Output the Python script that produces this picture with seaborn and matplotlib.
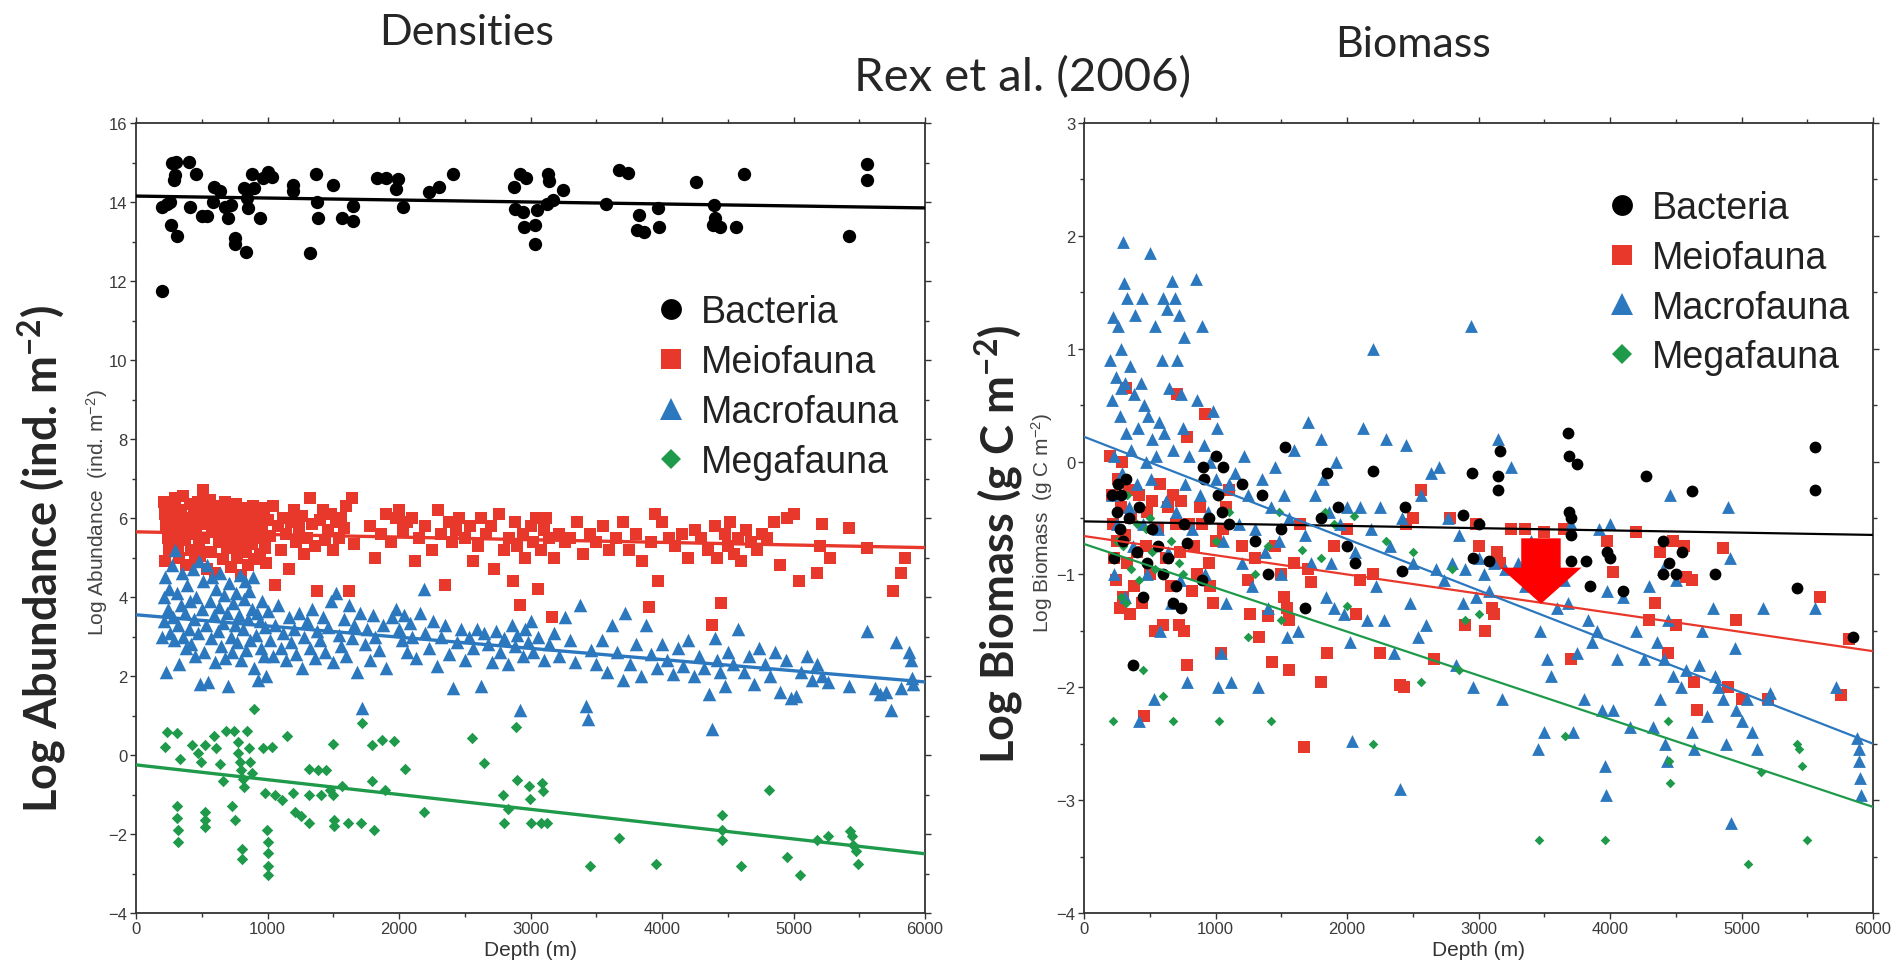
import matplotlib
matplotlib.use("Agg")
import matplotlib.pyplot as plt
import seaborn as sns
import pandas as pd
from matplotlib.ticker import MultipleLocator
from matplotlib.lines import Line2D

# ---------------- data ----------------
species = ["Bacteria", "Meiofauna", "Macrofauna", "Megafauna"]
panel_titles = ["Densities", "Biomass"]
figure_title = "Rex et al. (2006)"

# Left panel: Log abundance (ind. m-2) vs depth (m)
dens_bacteria = [
    (200, 11.75), (195, 13.87), (233, 13.95), (258, 14.0), (265, 13.43), (271, 14.98), (304, 15.02),
    (296, 14.69), (289, 14.56), (309, 13.15), (405, 15.02), (453, 14.7), (410, 13.87), (499, 13.64),
    (542, 13.64), (588, 14.0), (593, 14.39), (639, 14.28), (677, 13.87), (702, 13.6), (722, 13.92),
    (753, 13.1), (756, 12.93), (834, 12.74), (821, 14.35), (841, 14.1), (849, 13.85), (879, 14.7),
    (897, 14.35), (943, 13.6), (968, 14.6), (1006, 14.75), (1032, 14.64), (1191, 14.42), (1196, 14.28),
    (1323, 12.71), (1369, 14.7), (1379, 14.0), (1382, 13.6), (1501, 14.44), (1564, 13.6), (1648, 13.53),
    (1653, 13.89), (1830, 14.6), (1901, 14.6), (1990, 14.58), (1977, 14.33), (2033, 13.87), (2228, 14.25),
    (2307, 14.39), (2413, 14.7), (2877, 14.39), (2920, 14.7), (2965, 14.6), (2882, 13.82), (2946, 13.75),
    (2950, 13.36), (3035, 13.41), (3038, 12.93), (3047, 13.81), (3136, 14.7), (3141, 14.52), (3123, 13.95),
    (3174, 14.06), (3250, 14.31), (3571, 13.96), (3673, 14.8), (3743, 14.73), (3827, 13.68), (3813, 13.29),
    (3864, 13.23), (3966, 13.85), (3976, 13.36), (4260, 14.5), (4395, 13.92), (4385, 13.43), (4441, 13.37),
    (4404, 13.6), (4562, 13.37), (4627, 14.71), (5424, 13.14), (5559, 14.95), (5562, 14.55),
]
dens_meiofauna = [
    (210, 6.4), (220, 6.1), (230, 5.8), (240, 5.5), (250, 5.2), (220, 4.9), (260, 6.3), (270, 5.9),
    (280, 5.6), (300, 6.5), (310, 6.0), (320, 5.3), (330, 5.0), (340, 6.2), (350, 5.7), (360, 6.55),
    (370, 5.45), (380, 4.8), (390, 6.0), (400, 5.9), (410, 6.35), (420, 5.2), (430, 5.6), (440, 6.1),
    (450, 4.9), (460, 5.8), (470, 6.4), (480, 5.35), (490, 5.05), (500, 6.0), (510, 6.7), (520, 5.5),
    (530, 6.2), (540, 4.7), (550, 5.85), (560, 6.45), (570, 5.15), (580, 5.65), (590, 6.05), (600, 4.6),
    (610, 5.95), (620, 6.3), (630, 5.4), (640, 5.75), (650, 6.15), (660, 4.95), (670, 5.55), (680, 6.4),
    (690, 5.25), (700, 5.9), (710, 6.2), (720, 4.75), (730, 5.6), (740, 6.0), (750, 5.3), (760, 6.35),
    (770, 5.0), (780, 5.7), (790, 6.1), (800, 4.55), (810, 5.45), (820, 5.85), (830, 6.25), (840, 5.15),
    (850, 4.8), (860, 5.65), (870, 6.0), (880, 5.35), (890, 6.3), (900, 4.95), (910, 5.8), (920, 6.15),
    (930, 5.5), (940, 5.1), (950, 6.0), (960, 5.7), (970, 6.25), (980, 5.25), (990, 4.85), (1000, 5.95),
    (1020, 5.55), (1040, 6.3), (1060, 4.3), (1080, 5.8), (1100, 5.2), (1120, 6.0), (1140, 5.6), (1160, 4.7),
    (1180, 5.9), (1200, 6.2), (1220, 5.4), (1240, 5.75), (1260, 6.05), (1280, 5.1), (1300, 5.5), (1320, 6.5),
    (1340, 5.85), (1360, 5.3), (1380, 4.15), (1400, 5.95), (1420, 6.2), (1440, 5.45), (1460, 5.7), (1480, 6.1),
    (1500, 5.2), (1520, 5.9), (1540, 5.5), (1560, 6.0), (1580, 5.75), (1600, 6.3), (1620, 4.15), (1640, 6.5),
    (1660, 5.35), (1780, 5.8), (1820, 5.0), (1860, 5.6), (1900, 6.1), (1940, 5.4), (1980, 6.0), (2000, 6.2),
    (2030, 5.7), (2060, 5.9), (2100, 6.0), (2120, 4.9), (2150, 5.5), (2200, 5.8), (2250, 5.2), (2300, 6.2),
    (2320, 5.6), (2350, 4.3), (2380, 5.9), (2400, 5.4), (2430, 5.7), (2460, 6.0), (2500, 5.5), (2540, 5.8),
    (2560, 4.9), (2600, 5.3), (2620, 6.0), (2660, 5.6), (2700, 5.8), (2720, 4.7), (2760, 6.1), (2800, 5.2),
    (2840, 5.5), (2870, 4.4), (2880, 5.9), (2900, 5.3), (2920, 3.8), (2940, 5.6), (2960, 5.0), (3000, 5.8),
    (3020, 5.4), (3040, 6.0), (3060, 4.2), (3080, 5.2), (3100, 5.7), (3120, 6.0), (3140, 5.5), (3160, 3.5),
    (3180, 5.0), (3220, 5.6), (3260, 5.4), (3300, 5.5), (3350, 5.9), (3400, 5.1), (3450, 5.6), (3500, 5.4),
    (3550, 5.8), (3600, 5.2), (3650, 5.5), (3700, 5.9), (3750, 5.2), (3800, 5.6), (3850, 4.9), (3900, 3.75),
    (3920, 5.4), (3950, 6.1), (3970, 4.4), (4000, 5.9), (4050, 5.5), (4100, 5.3), (4150, 5.6), (4200, 5.0),
    (4250, 5.7), (4300, 5.5), (4350, 5.2), (4380, 3.3), (4400, 5.8), (4420, 5.0), (4450, 3.85), (4480, 5.6),
    (4500, 5.3), (4520, 5.9), (4550, 5.1), (4580, 5.5), (4600, 4.9), (4640, 5.7), (4680, 5.4), (4720, 5.2),
    (4760, 5.6), (4800, 5.5), (4850, 5.9), (4900, 4.8), (4950, 6.0), (5000, 6.1), (5040, 4.4), (5180, 4.6),
    (5200, 5.3), (5220, 5.85), (5280, 5.0), (5420, 5.75), (5560, 5.25), (5760, 4.15), (5820, 4.6), (5850, 5.0),
]
dens_macrofauna = [
    (200, 3.0), (210, 3.4), (215, 4.0), (220, 4.5), (230, 2.1), (240, 3.7), (250, 4.2), (260, 3.1),
    (270, 4.8), (280, 3.5), (290, 2.9), (300, 5.2), (310, 4.1), (320, 3.3), (330, 2.3), (340, 3.8),
    (350, 4.6), (360, 3.0), (370, 3.6), (380, 2.7), (390, 4.3), (400, 3.2), (410, 3.9), (420, 2.8),
    (430, 4.7), (440, 3.45), (450, 2.5), (460, 4.0), (470, 3.1), (480, 4.9), (490, 1.8), (500, 3.7),
    (510, 4.4), (520, 2.6), (530, 3.3), (540, 4.8), (550, 1.85), (560, 3.9), (570, 2.95), (580, 4.5),
    (590, 3.55), (600, 2.35), (610, 4.2), (620, 3.15), (630, 3.75), (640, 4.6), (650, 2.75), (660, 3.35),
    (670, 4.05), (680, 2.45), (690, 3.6), (700, 1.75), (710, 4.35), (720, 3.0), (730, 2.6), (740, 3.85),
    (750, 3.3), (760, 4.1), (770, 2.85), (780, 3.55), (790, 4.55), (800, 2.4), (810, 3.2), (820, 3.95),
    (830, 4.4), (840, 2.65), (850, 3.45), (860, 4.15), (870, 2.9), (880, 3.7), (890, 4.5), (900, 2.2),
    (910, 3.05), (920, 3.6), (930, 1.9), (940, 3.4), (950, 2.7), (960, 3.9), (970, 2.5), (980, 3.25),
    (990, 2.0), (1000, 3.65), (1020, 2.9), (1040, 2.5), (1060, 3.3), (1080, 3.8), (1100, 2.7), (1120, 3.1),
    (1140, 2.4), (1160, 3.5), (1180, 2.85), (1200, 3.2), (1220, 2.55), (1240, 3.6), (1260, 2.2), (1280, 3.0),
    (1300, 3.4), (1320, 2.7), (1340, 3.7), (1360, 2.45), (1380, 3.15), (1400, 2.9), (1420, 3.5), (1440, 2.6),
    (1460, 3.25), (1480, 3.9), (1500, 2.35), (1520, 4.1), (1540, 3.05), (1560, 2.75), (1580, 3.45), (1600, 2.5),
    (1620, 3.8), (1640, 2.95), (1660, 3.3), (1680, 2.1), (1700, 3.6), (1720, 1.2), (1740, 2.8), (1760, 3.2),
    (1780, 2.4), (1800, 3.55), (1820, 3.0), (1850, 2.65), (1880, 3.3), (1900, 2.2), (1950, 3.5), (1980, 3.7),
    (2000, 3.2), (2020, 2.9), (2040, 3.55), (2060, 2.6), (2080, 3.35), (2100, 3.0), (2130, 2.45), (2160, 3.6),
    (2190, 4.2), (2200, 3.1), (2230, 2.7), (2260, 3.4), (2290, 2.25), (2320, 3.0), (2350, 3.3), (2380, 2.55),
    (2410, 1.7), (2440, 2.85), (2470, 3.2), (2500, 2.4), (2530, 3.0), (2560, 2.7), (2590, 3.2), (2620, 1.75),
    (2650, 3.1), (2680, 2.8), (2710, 2.35), (2740, 3.15), (2770, 2.6), (2800, 2.95), (2830, 2.3), (2860, 3.3),
    (2880, 2.75), (2900, 3.05), (2920, 1.15), (2940, 2.5), (2960, 3.2), (2980, 2.85), (3000, 3.4), (3020, 2.6),
    (3060, 3.0), (3100, 2.4), (3140, 2.8), (3180, 3.1), (3220, 2.5), (3260, 3.5), (3300, 2.9), (3340, 2.35),
    (3380, 3.8), (3420, 1.25), (3440, 0.9), (3460, 2.65), (3500, 2.3), (3540, 2.9), (3580, 2.1), (3620, 3.3),
    (3660, 2.6), (3700, 1.9), (3720, 3.6), (3760, 2.3), (3800, 2.8), (3840, 2.0), (3880, 3.3), (3920, 2.55),
    (3960, 2.2), (4000, 2.8), (4040, 2.4), (4080, 2.05), (4120, 2.7), (4160, 2.25), (4200, 2.9), (4240, 2.0),
    (4280, 2.5), (4320, 2.2), (4360, 1.55), (4380, 0.65), (4400, 2.95), (4420, 2.4), (4440, 2.1), (4480, 1.75),
    (4500, 2.6), (4540, 2.3), (4580, 3.2), (4620, 2.1), (4660, 2.5), (4700, 1.8), (4740, 2.7), (4780, 2.3),
    (4820, 2.0), (4860, 2.6), (4900, 1.6), (4940, 2.4), (4980, 1.45), (5020, 1.5), (5060, 2.1), (5100, 2.5),
    (5140, 1.9), (5180, 2.3), (5220, 2.0), (5260, 1.85), (5420, 1.75), (5560, 3.15), (5620, 1.7), (5660, 1.55),
    (5700, 1.6), (5740, 1.15), (5780, 2.85), (5820, 1.7), (5880, 2.6), (5890, 2.4), (5900, 1.95), (5910, 1.8),
]
dens_megafauna = [
    (219, 0.2), (233, 0.59), (312, 0.56), (335, -0.1), (312, -1.3), (314, -1.6), (316, -1.9), (321, -2.2),
    (428, 0.25), (475, 0.04), (498, -0.17), (521, 0.25), (521, -1.44), (523, -1.65), (525, -1.83), (591, 0.49),
    (605, 0.18), (638, -0.24), (684, 0.6), (661, -0.67), (745, 0.6), (731, -1.3), (754, -1.65), (777, 0.32),
    (779, 0.04), (791, -0.17), (801, -0.39), (810, -0.6), (824, -0.8), (803, -2.38), (805, -2.63), (847, 0.6),
    (861, 0.18), (870, -0.17), (884, -0.46), (894, 1.17), (964, 0.18), (978, -0.95), (996, -1.9), (1000, -2.19),
    (1002, -2.47), (1004, -2.82), (1006, -3.03), (1034, 0.2), (1057, -1.02), (1113, -1.13), (1150, 0.49),
    (1196, -0.95), (1210, -1.44), (1257, -1.54), (1313, -0.36), (1315, -1.02), (1317, -1.72), (1383, -0.39),
    (1406, -1.02), (1443, -0.39), (1476, -0.88), (1499, 0.27), (1501, -1.02), (1503, -1.65), (1505, -1.79),
    (1569, -0.78), (1615, -1.72), (1718, 0.81), (1709, -1.72), (1792, 0.25), (1794, -0.67), (1811, -1.9),
    (1872, 0.39), (1895, -0.88), (1965, 0.36), (2048, -0.36), (2188, -1.44), (2556, 0.42), (2649, -0.2),
    (2793, -1.02), (2795, -1.72), (2826, -1.37), (2886, 0.71), (2896, -0.64), (2989, -0.78), (2998, -1.12),
    (3000, -1.72), (3082, -1.72), (3091, -0.7), (3093, -0.92), (3128, -1.72), (3454, -2.82), (3673, -2.1),
    (3953, -2.75), (4455, -1.51), (4457, -1.9), (4459, -2.14), (4604, -2.82), (4814, -0.88), (4953, -2.57),
    (5051, -3.03), (5177, -2.14), (5261, -2.04), (5433, -1.93), (5447, -2.04), (5456, -2.28), (5479, -2.42),
    (5493, -2.75),
]

# Right panel: Log biomass (g C m-2) vs depth (m)
bio_bacteria = [
    (210, -0.3), (230, -0.85), (250, -0.45), (260, -0.2), (270, -0.6), (280, -0.3), (300, -0.7), (320, -0.15),
    (340, -0.5), (370, -1.8), (400, -0.8), (420, -0.4), (450, -1.2), (480, -0.9), (520, -0.6), (560, -0.75),
    (600, -1.0), (640, -0.85), (680, -1.25), (700, -1.1), (740, -1.3), (760, -0.55), (780, -0.72), (900, -1.05),
    (905, -0.05), (910, -0.15), (950, -0.5), (1000, 0.05), (1020, -0.3), (1050, -0.45), (1060, -0.05),
    (1100, -0.55), (1200, -0.2), (1300, -0.7), (1350, -0.3), (1400, -1.0), (1500, -0.6), (1530, 0.13),
    (1680, -1.3), (1800, -0.5), (1850, -0.1), (1930, -0.4), (2000, -0.75), (2060, -0.9), (2200, -0.08),
    (2420, -0.97), (2440, -0.4), (2880, -0.47), (2950, -0.1), (2960, -0.85), (3000, -0.55), (3080, -0.88),
    (3150, -0.25), (3152, -0.13), (3160, 0.09), (3680, 0.25), (3690, 0.05), (3692, -0.45), (3700, -0.5),
    (3702, -0.65), (3704, -0.88), (3750, -0.02), (3820, -0.88), (3850, -1.1), (3980, -0.8), (4000, -0.85),
    (4100, -1.15), (4270, -0.13), (4400, -0.7), (4402, -1.0), (4450, -0.9), (4500, -1.0), (4550, -0.8),
    (4620, -0.26), (4800, -1.0), (5420, -1.12), (5560, 0.13), (5562, -0.25), (5850, -1.55),
]
bio_meiofauna = [
    (200, 0.05), (210, -0.3), (220, -0.55), (230, -0.85), (240, -1.05), (250, -0.7), (260, -0.15), (270, -1.3),
    (280, -0.4), (290, 0.0), (300, -1.2), (310, -0.65), (320, 0.65), (330, -0.9), (340, -0.25), (350, -1.35),
    (360, -0.5), (380, -1.1), (400, -0.8), (420, -0.3), (440, -1.25), (460, -2.25), (470, -0.75), (480, -0.45),
    (500, -1.0), (520, -0.35), (540, -1.5), (560, -0.6), (580, -0.2), (600, -1.45), (620, -0.85), (640, -0.4),
    (660, -1.1), (680, -0.3), (700, -0.55), (710, 0.6), (720, -1.45), (730, -0.8), (740, -0.35), (760, -1.5),
    (780, -1.8), (785, 0.22), (800, -0.55), (820, -1.15), (840, -0.75), (860, -1.0), (880, -0.4), (900, -0.55),
    (920, 0.42), (950, -0.9), (960, -1.1), (980, -1.25), (1000, -0.7), (1040, -1.7), (1060, -0.6), (1080, -0.4),
    (1100, -0.25), (1200, -0.75), (1250, -1.05), (1260, -1.35), (1300, -0.85), (1330, -1.55), (1400, -1.37),
    (1430, -1.78), (1450, -0.75), (1500, -1.0), (1520, -1.2), (1540, -1.3), (1560, -1.4), (1562, -1.85),
    (1600, -0.9), (1640, -0.55), (1670, -2.53), (1700, -0.95), (1730, -1.07), (1800, -1.95), (1850, -1.7),
    (1900, -0.75), (2000, -0.6), (2070, -1.35), (2100, -1.05), (2200, -1.0), (2250, -1.7), (2400, -1.98),
    (2430, -2.0), (2450, -0.55), (2500, -0.5), (2560, -0.25), (2660, -1.75), (2780, -0.5), (2900, -1.45),
    (2980, -0.55), (3000, -0.75), (3050, -1.5), (3100, -1.3), (3120, -1.35), (3140, -0.8), (3160, -0.9),
    (3250, -0.6), (3350, -0.6), (3500, -0.62), (3650, -0.6), (3700, -1.75), (3980, -0.7), (4020, -0.98),
    (4200, -0.62), (4300, -1.4), (4340, -1.25), (4380, -0.8), (4440, -1.7), (4480, -0.7), (4500, -1.45),
    (4560, -0.75), (4580, -1.02), (4620, -1.05), (4640, -1.95), (4660, -2.2), (4860, -0.77), (4960, -1.4),
    (4900, -2.0), (5000, -2.1), (5200, -2.1), (5600, -1.2), (5760, -2.07), (5820, -1.57),
]
bio_macrofauna = [
    (200, 0.9), (210, 0.55), (215, -0.3), (220, 1.28), (225, 0.05), (230, -1.0), (240, 0.75), (250, -0.55),
    (260, 1.2), (270, 0.4), (280, 0.65), (285, 1.0), (290, -0.1), (300, 1.95), (305, 1.58), (310, 0.7),
    (315, -1.2), (320, 0.25), (330, 1.45), (340, -0.4), (350, 0.85), (360, 0.1), (370, -0.75), (380, 0.6),
    (390, 1.3), (400, -0.2), (410, 0.3), (420, -2.3), (430, 0.7), (440, 1.45), (450, -0.55), (460, 0.5),
    (470, 0.0), (480, -1.0), (490, 0.4), (500, 1.85), (510, -0.15), (520, 0.2), (530, -2.1), (540, 1.2),
    (550, 0.05), (560, -0.6), (570, 0.35), (580, -1.5), (590, 0.9), (600, 1.45), (610, 0.25), (620, -0.35),
    (630, 1.35), (640, -0.8), (650, 0.65), (660, -1.25), (670, 1.6), (680, 0.1), (690, 1.45), (700, -0.45),
    (710, 0.9), (720, 1.3), (730, -1.05), (740, 0.6), (750, 0.3), (760, 1.1), (770, -0.2), (780, -1.95),
    (800, 0.05), (820, -0.6), (850, 1.62), (860, 0.55), (880, -0.3), (900, 1.2), (910, 0.15), (920, -1.0),
    (940, -0.45), (960, 0.0), (980, 0.45), (1000, -0.15), (1010, 0.3), (1020, -2.0), (1040, -1.7), (1060, -0.7),
    (1080, -1.25), (1100, -0.2), (1120, -1.95), (1150, -0.1), (1180, -0.55), (1200, -0.9), (1220, 0.05),
    (1250, -0.3), (1280, -1.1), (1300, -0.6), (1320, -2.0), (1350, -0.15), (1380, -0.8), (1400, -1.3),
    (1420, -0.4), (1450, -0.05), (1480, -0.7), (1500, -1.0), (1520, -0.3), (1540, -1.55), (1560, -0.5),
    (1600, 0.1), (1630, -1.5), (1680, -0.65), (1700, 0.35), (1730, -0.9), (1760, -0.3), (1800, 0.2),
    (1820, -0.15), (1840, -1.2), (1860, -0.45), (1880, -0.9), (1900, -1.3), (1920, 0.0), (1950, -0.55),
    (1980, -1.35), (2000, -0.4), (2020, -1.6), (2040, -2.48), (2060, -0.8), (2100, -0.4), (2120, 0.3),
    (2150, -1.4), (2180, -0.6), (2200, 1.0), (2220, -1.1), (2250, -0.4), (2280, -1.4), (2300, 0.2),
    (2330, -0.75), (2360, -1.7), (2400, -2.9), (2420, -0.5), (2450, 0.15), (2480, -1.25), (2500, -0.9),
    (2540, -1.55), (2560, -0.3), (2600, -1.45), (2640, -0.1), (2680, -0.95), (2700, -0.05), (2740, -1.05),
    (2770, -0.5), (2800, -0.9), (2830, -1.8), (2850, -0.65), (2880, -1.25), (2900, -0.95), (2940, 1.2),
    (2960, -2.0), (2980, -1.2), (3000, -0.85), (3040, -1.0), (3080, -1.15), (3120, -0.9), (3150, 0.2),
    (3180, -2.1), (3200, -0.95), (3250, -0.05), (3300, -0.9), (3350, -1.1), (3400, -0.7), (3450, -2.55),
    (3470, -1.5), (3500, -2.4), (3520, -1.75), (3550, -1.9), (3600, -1.3), (3650, -1.05), (3680, -1.25),
    (3700, -0.55), (3720, -2.4), (3750, -1.7), (3800, -2.1), (3830, -1.4), (3860, -1.6), (3900, -1.5),
    (3920, -0.6), (3940, -2.2), (3960, -2.7), (3970, -2.95), (3980, -1.15), (4000, -0.55), (4020, -2.2),
    (4050, -1.75), (4100, -1.2), (4150, -2.35), (4200, -1.5), (4260, -1.75), (4300, -1.1), (4330, -2.35),
    (4360, -1.6), (4380, -2.1), (4400, -0.95), (4410, -1.75), (4420, -2.5), (4430, -2.65), (4440, -1.4),
    (4460, -0.3), (4480, -1.9), (4500, -1.05), (4540, -2.0), (4580, -1.85), (4620, -2.4), (4640, -2.55),
    (4680, -1.8), (4700, -1.5), (4740, -2.25), (4780, -1.3), (4800, -1.9), (4820, -2.0), (4860, -2.1),
    (4880, -2.5), (4900, -0.4), (4910, -0.85), (4920, -3.2), (4950, -1.65), (4960, -2.2), (5000, -2.3),
    (5040, -2.1), (5080, -2.4), (5120, -2.55), (5160, -1.3), (5200, -2.1), (5220, -2.05), (5560, -1.3),
    (5720, -2.0), (5880, -2.45), (5890, -2.65), (5900, -2.8), (5910, -2.95), (5895, -2.55),
]
bio_megafauna = [
    (220, -2.3), (250, -0.7), (280, -1.2), (300, -0.75), (320, -1.25), (330, -0.3), (360, -0.95), (400, -0.55),
    (420, -1.05), (450, -1.85), (470, -0.6), (500, -0.5), (520, -0.8), (540, -0.95), (600, -2.08), (620, -0.85),
    (660, -0.7), (680, -2.3), (720, -0.9), (750, -1.0), (900, -0.15), (1000, -0.7), (1030, -2.3), (1100, -0.45),
    (1250, -1.55), (1300, -1.0), (1400, -0.75), (1420, -2.3), (1480, -0.45), (1500, -1.4), (1660, -0.78),
    (1800, -0.85), (1830, -0.45), (1900, -0.55), (2000, -1.28), (2050, -0.48), (2200, -2.5), (2300, -0.7),
    (2500, -0.8), (2560, -1.95), (2800, -0.95), (2850, -1.85), (2900, -1.4), (3000, -1.35), (3460, -3.35),
    (3660, -2.43), (3960, -3.35), (4440, -2.3), (4450, -2.65), (4460, -2.85), (5050, -3.57), (5150, -2.75),
    (5420, -2.5), (5440, -2.55), (5460, -2.7), (5500, -3.35),
]

# regression lines (value at depth 0 and 6000 m)
fit_depth = [0, 6000]
dens_fit_bacteria = [14.15, 13.85]
dens_fit_meiofauna = [5.65, 5.25]
dens_fit_macrofauna = [3.55, 1.85]
dens_fit_megafauna = [-0.25, -2.5]
bio_fit_bacteria = [-0.53, -0.65]
bio_fit_meiofauna = [-0.66, -1.68]
bio_fit_macrofauna = [0.22, -2.5]
bio_fit_megafauna = [-0.73, -3.06]

# red arrow annotation on the biomass panel (depth, log biomass)
arrow_depth = 3475
arrow_top = -0.68
arrow_tip = -1.26

# ---------------- style ----------------
sns.set_style("ticks")
plt.rcParams["font.family"] = ["Liberation Sans", "DejaVu Sans"]
plt.rcParams["mathtext.default"] = "regular"

colors = {"Bacteria": "#000000", "Meiofauna": "#E8382B", "Macrofauna": "#2B78BE", "Megafauna": "#1E9A4A"}
markers = {"Bacteria": "o", "Meiofauna": "s", "Macrofauna": "^", "Megafauna": "D"}
left_sizes = {"Bacteria": 92, "Meiofauna": 75, "Macrofauna": 95, "Megafauna": 34}
right_sizes = {"Bacteria": 72, "Meiofauna": 68, "Macrofauna": 85, "Megafauna": 24}
legend_msize = {"Bacteria": 15, "Meiofauna": 14.5, "Macrofauna": 16.5, "Megafauna": 10.5}


def to_frame(points, name):
    return pd.DataFrame({"depth": [p[0] for p in points], "value": [p[1] for p in points], "group": name})


dens_df = pd.concat([to_frame(dens_bacteria, "Bacteria"), to_frame(dens_meiofauna, "Meiofauna"),
                     to_frame(dens_macrofauna, "Macrofauna"), to_frame(dens_megafauna, "Megafauna")])
bio_df = pd.concat([to_frame(bio_bacteria, "Bacteria"), to_frame(bio_meiofauna, "Meiofauna"),
                    to_frame(bio_macrofauna, "Macrofauna"), to_frame(bio_megafauna, "Megafauna")])
dens_fits = {"Bacteria": dens_fit_bacteria, "Meiofauna": dens_fit_meiofauna,
             "Macrofauna": dens_fit_macrofauna, "Megafauna": dens_fit_megafauna}
bio_fits = {"Bacteria": bio_fit_bacteria, "Meiofauna": bio_fit_meiofauna,
            "Macrofauna": bio_fit_macrofauna, "Megafauna": bio_fit_megafauna}

W, H = 1898, 970
fig = plt.figure(figsize=(W / 100, H / 100), dpi=100)
ax1 = fig.add_axes([136 / W, (H - 914) / H, 789 / W, 790 / H])
ax2 = fig.add_axes([1084 / W, (H - 914) / H, 789 / W, 790 / H])

# left panel
for sp in species:
    d = dens_df[dens_df.group == sp]
    sns.scatterplot(data=d, x="depth", y="value", marker=markers[sp], color=colors[sp],
                    s=left_sizes[sp], linewidth=0, ax=ax1, legend=False, zorder=2)
for sp in species:
    sns.lineplot(x=fit_depth, y=dens_fits[sp], color=colors[sp], lw=2.4, ax=ax1, legend=False, zorder=3)

# right panel
for sp in ["Meiofauna", "Macrofauna", "Megafauna", "Bacteria"]:
    d = bio_df[bio_df.group == sp]
    sns.scatterplot(data=d, x="depth", y="value", marker=markers[sp], color=colors[sp],
                    s=right_sizes[sp], linewidth=0, ax=ax2, legend=False, zorder=2)
for sp in species:
    sns.lineplot(x=fit_depth, y=bio_fits[sp], color=colors[sp], lw=1.6, ax=ax2, legend=False, zorder=3)

ax2.arrow(arrow_depth, arrow_top, 0, arrow_tip - arrow_top, width=300, head_width=616,
          head_length=0.32, length_includes_head=True, color="#FF0000", lw=0, zorder=5)

for ax, ylim, major, minor in [(ax1, (-4, 16), 2, 1), (ax2, (-4, 3), 1, 0.5)]:
    ax.set_xlim(0, 6000)
    ax.set_ylim(*ylim)
    ax.xaxis.set_major_locator(MultipleLocator(1000))
    ax.xaxis.set_minor_locator(MultipleLocator(500))
    ax.yaxis.set_major_locator(MultipleLocator(major))
    ax.yaxis.set_minor_locator(MultipleLocator(minor))
    ax.tick_params(which="both", direction="out", top=True, right=True, colors="#333333",
                   labelcolor="#3a3a3a", labelsize=12, width=1.0)
    ax.tick_params(which="major", length=4, pad=2)
    ax.tick_params(which="minor", length=3)
    for s in ax.spines.values():
        s.set_visible(True)
        s.set_color("#333333")
        s.set_linewidth(1.3)
    ax.set_xlabel("Depth (m)", fontsize=15, color="#333333", labelpad=3)
    ax.set_ylabel("")

ax1.text(-0.049, 0.508, "Log Abundance  (ind. m$^{-2}$)", transform=ax1.transAxes, rotation=90,
         ha="center", va="center", fontsize=15, color="#444444")
ax2.text(-0.053, 0.495, "Log Biomass  (g C m$^{-2}$)", transform=ax2.transAxes, rotation=90,
         ha="center", va="center", fontsize=15, color="#444444")

# legends
for ax, anchor in [(ax1, (0.645, 0.666)), (ax2, (0.648, 0.798))]:
    handles = [Line2D([], [], linestyle="none", marker=markers[sp], color=colors[sp],
                      markersize=legend_msize[sp], markeredgewidth=0) for sp in species]
    ax.legend(handles, species, loc="center left", bbox_to_anchor=anchor, frameon=False,
              fontsize=27, handletextpad=0.1, labelspacing=0.37, borderpad=0, borderaxespad=0,
              handlelength=1.4, labelcolor="#222222")

# big labels and titles
fig.text(42 / W, 1 - 559 / H, "Log Abundance (ind. m$^{-2}$)", rotation=90, ha="center", va="center",
         fontsize=32.5, fontweight="bold", family=["Lato", "DejaVu Sans"])
fig.text(999 / W, 1 - 544 / H, "Log Biomass (g C m$^{-2}$)", rotation=90, ha="center", va="center",
         fontsize=32.5, fontweight="bold", family=["Lato", "DejaVu Sans"])
fig.text(467 / W, 1 - 33 / H, panel_titles[0], ha="center", va="center", fontsize=31,
         family=["Lato", "DejaVu Sans"])
fig.text(1413 / W, 1 - 45 / H, panel_titles[1], ha="center", va="center", fontsize=31,
         family=["Lato", "DejaVu Sans"])
fig.text(1023 / W, 1 - 78 / H, figure_title, ha="center", va="center", fontsize=34,
         family=["Lato", "DejaVu Sans"])

fig.savefig("out.png", dpi=100)
